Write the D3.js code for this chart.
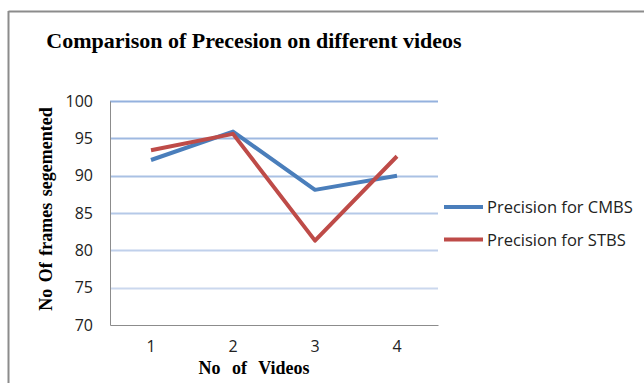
<!DOCTYPE html>
<html>
<head>
<meta charset="utf-8">
<script src="https://cdn.jsdelivr.net/npm/d3@7"></script>
<style>
  html, body { margin: 0; padding: 0; background: #fff; }
  svg { display: block; }
</style>
</head>
<body>
<svg id="chart" width="644" height="383"></svg>
<script>
// Data
const videos = ["1", "2", "3", "4"];
const cmbs = [92.1, 95.9, 88.1, 90.0];
const stbs = [93.4, 95.6, 81.3, 92.6];
const yTicks = [70, 75, 80, 85, 90, 95, 100];
const seriesNames = ["Precision for CMBS", "Precision for STBS"];
const seriesColors = ["#4a7ebb", "#be4b48"];

const svg = d3.select("#chart");
const W = 644, H = 383;
const plot = { left: 110, right: 438, top: 101, bottom: 325 };
const sans = "'Open Sans', 'DejaVu Sans', sans-serif";
const serif = "'Liberation Serif', 'Times New Roman', serif";

// outer frame (top and left edges)
svg.append("line").attr("x1", 8.5).attr("x2", W).attr("y1", 11.5).attr("y2", 11.5)
  .attr("stroke", "#8c8c8c").attr("stroke-width", 2);
svg.append("line").attr("x1", 8.5).attr("x2", 8.5).attr("y1", 11).attr("y2", H)
  .attr("stroke", "#8c8c8c").attr("stroke-width", 2);

const x = d3.scaleBand().domain(videos).range([plot.left, plot.right]);
const y = d3.scaleLinear().domain([70, 100]).range([plot.bottom, plot.top]);

// gridlines, fading from top to bottom
const gridColor = d3.interpolateRgb("#d6e0f1", "#94b1de");
svg.append("g").selectAll("line").data(yTicks.filter(t => t > 70)).join("line")
  .attr("x1", plot.left).attr("x2", plot.right)
  .attr("y1", d => Math.round(y(d)) + 0.5).attr("y2", d => Math.round(y(d)) + 0.5)
  .attr("stroke", d => gridColor((d - 70) / 30)).attr("stroke-width", 2);

// y axis
const yAxis = svg.append("g").attr("transform", `translate(${plot.left},0)`)
  .call(d3.axisLeft(y).tickValues(yTicks).tickSize(0).tickPadding(17));
yAxis.select(".domain").attr("stroke", "#8c8c8c");
yAxis.selectAll("text").attr("font-family", sans).attr("font-size", 16).attr("fill", "#222");

// x axis
const xAxis = svg.append("g").attr("transform", `translate(0,${plot.bottom})`)
  .call(d3.axisBottom(x).tickSize(0).tickPadding(16));
xAxis.select(".domain").attr("stroke", "#8c8c8c");
xAxis.selectAll("text").attr("font-family", sans).attr("font-size", 16).attr("fill", "#222");

// series lines
const line = d3.line().x((d, i) => x(videos[i]) + x.bandwidth() / 2).y(d => y(d));
[cmbs, stbs].forEach((s, k) => {
  svg.append("path").datum(s).attr("d", line)
    .attr("fill", "none").attr("stroke", seriesColors[k]).attr("stroke-width", 4)
    .attr("stroke-linejoin", "round").attr("stroke-linecap", "butt");
});

// title
svg.append("text").attr("x", 254).attr("y", 48).attr("text-anchor", "middle")
  .attr("font-family", serif).attr("font-weight", "bold").attr("font-size", 22).attr("fill", "#000")
  .text("Comparison of Precesion on different videos");

// axis titles
svg.append("text").attr("x", 254).attr("y", 374).attr("text-anchor", "middle")
  .attr("font-family", serif).attr("font-weight", "bold").attr("font-size", 18)
  .attr("word-spacing", 7).attr("fill", "#000")
  .text("No of Videos");

svg.append("text").attr("transform", "translate(52,209) rotate(-90)").attr("text-anchor", "middle")
  .attr("font-family", serif).attr("font-weight", "bold").attr("font-size", 18)
  .attr("word-spacing", 2).attr("fill", "#000")
  .text("No Of frames segemented");

// legend
const legend = svg.append("g");
seriesNames.forEach((name, k) => {
  const ly = 207 + k * 32.5;
  legend.append("line").attr("x1", 444).attr("x2", 483).attr("y1", ly).attr("y2", ly)
    .attr("stroke", seriesColors[k]).attr("stroke-width", 4);
  legend.append("text").attr("x", 487).attr("y", ly + 6)
    .attr("font-family", sans).attr("font-size", 16.5).attr("fill", "#222").text(name);
});
</script>
</body>
</html>
